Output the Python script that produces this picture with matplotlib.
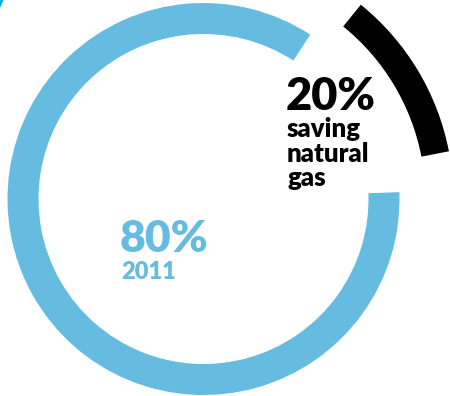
import matplotlib
matplotlib.use("Agg")
import matplotlib.pyplot as plt
from matplotlib.patches import Wedge, Polygon

# Valores del anillo
labels = ["2011", "saving\nnatural\ngas"]
values = [80, 20]
colors = ["#66bce0", "#000000"]

W, H = 450, 396
fig = plt.figure(figsize=(W / 100, H / 100), dpi=100)
ax = fig.add_axes([0, 0, 1, 1])
ax.set_xlim(0, W)
ax.set_ylim(0, H)
ax.set_aspect("equal")
ax.axis("off")

cx, cy = 203.5, H - 199

# arco azul (grande) y arco negro desplazado hacia afuera
ax.add_patch(Wedge((cx, cy), 196, 57, 362, width=31, color=colors[0], lw=0))
ax.add_patch(Wedge((cx, cy), 250, 11, 51, width=28, color=colors[1], lw=0))

# pequeño trazo en la esquina superior izquierda
ax.add_patch(Polygon([[0, H], [3.5, H], [0, H - 8]], closed=True,
                     color="#00aaee", lw=0))

font = "Lato"
ax.text(120, H - 252, f"{values[0]}%", color=colors[0], fontsize=32,
        fontweight="heavy", family=font, ha="left", va="baseline")
ax.text(121, H - 279, labels[0], color=colors[0], fontsize=17,
        fontweight="heavy", family=font, ha="left", va="baseline")

ax.text(286, H - 110, f"{values[1]}%", color=colors[1], fontsize=32.5,
        fontweight="heavy", family=font, ha="left", va="baseline")
baselines = [137, 162, 186]
for line, yb in zip(labels[1].split("\n"), baselines):
    ax.text(287, H - yb, line, color=colors[1], fontsize=18.5,
            fontweight="heavy", family=font, ha="left", va="baseline")

fig.savefig("out.png", dpi=100)
